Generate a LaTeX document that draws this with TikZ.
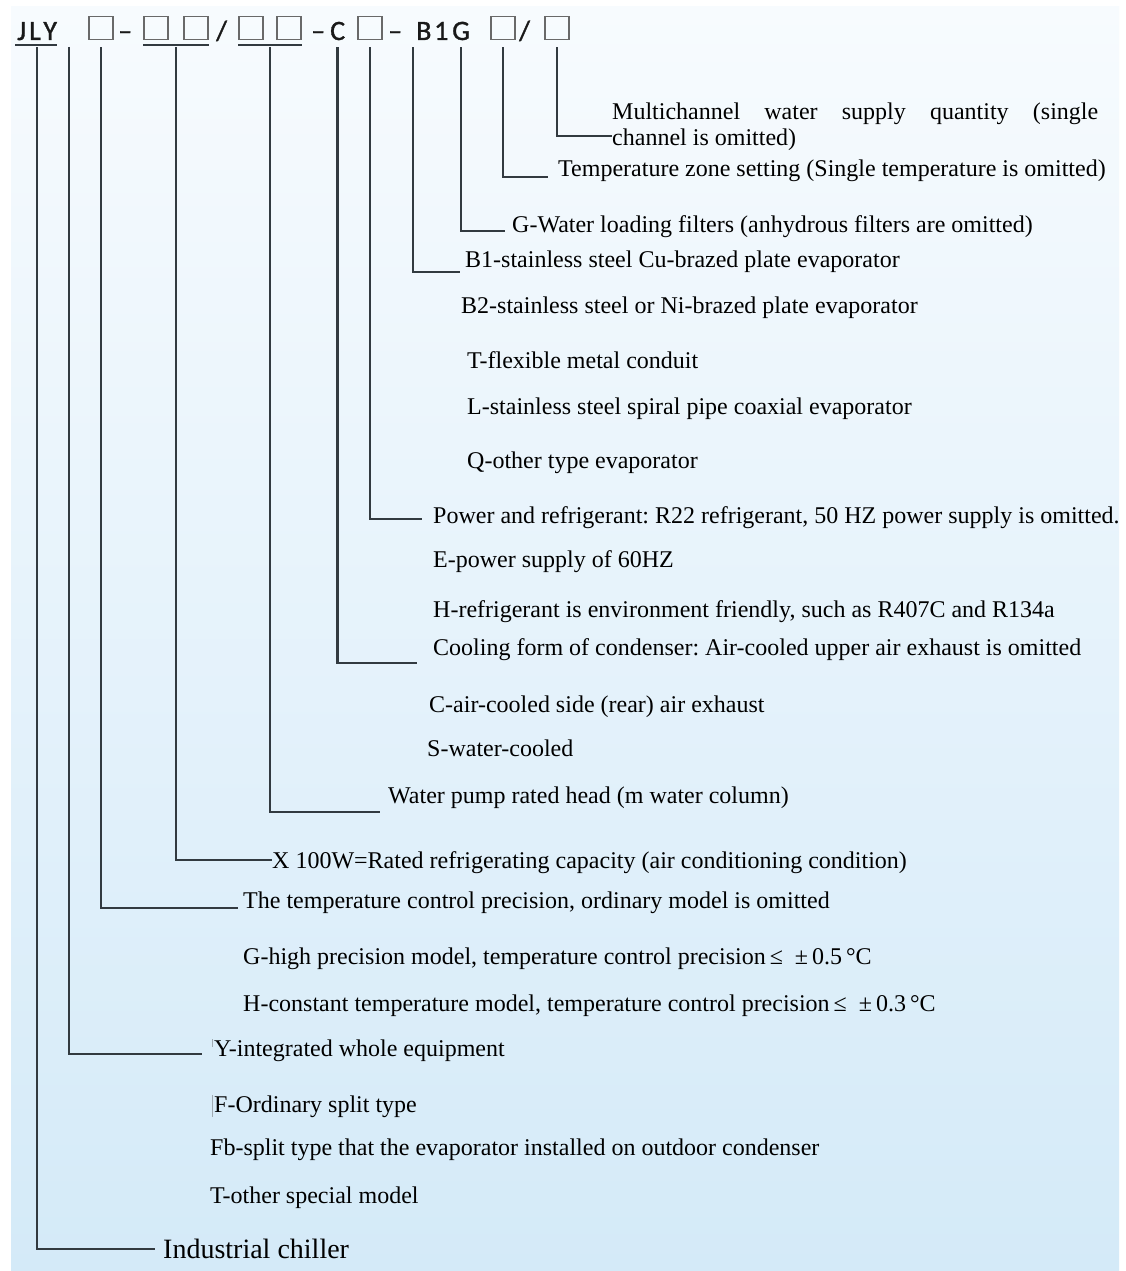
\documentclass[tikz,border=0pt]{standalone}
\usepackage{fontspec}
\usetikzlibrary{calc}
\setmainfont{Liberation Serif}
\newfontfamily\hdrfont[FakeBold=1.2]{Carlito}
\frenchspacing
\definecolor{leadgray}{RGB}{50,58,64}
\definecolor{slotgray}{RGB}{105,105,105}
\definecolor{hdrgray}{RGB}{25,25,25}
\definecolor{tickgray}{RGB}{160,170,178}
\definecolor{panelTop}{RGB}{247,251,254}
\definecolor{panelBot}{RGB}{212,234,248}
\begin{document}
\begin{tikzpicture}[x=1pt,y=-1pt,
  lbl/.style={anchor=base west, inner sep=0pt, font=\fontsize{24}{28}\selectfont, text=black},
  hdr/.style={anchor=base west, inner sep=0pt, font=\hdrfont\fontsize{28}{32}\selectfont, text=hdrgray},
  slot/.style={draw=slotgray, line width=1.3pt, minimum width=24pt, minimum height=23pt, inner sep=0pt},
  lead/.style={draw=leadgray, line width=2.4pt},
  uline/.style={draw=leadgray, line width=2pt}
]
\useasboundingbox (0,0) rectangle (1126,1271);
\fill[white] (0,0) rectangle (1126,1271);
\shade[top color=panelTop, bottom color=panelBot] (11,7) rectangle (1119,1271);

% ---- model code header ----
\node[hdr] (jly) at (17,40) {J\kern3pt L\kern2.5pt Y};
\node[slot] (s1) at (101,28) {};
\node[hdr] (d1) at (118,40) {–};
\node[slot] (s2) at (156,28) {};
\node[slot] (s3) at (196,28) {};
\node[hdr] (sl1) at (216,40) {/};
\node[slot] (s4) at (251,28) {};
\node[slot] (s5) at (289,28) {};
\node[hdr] (d2) at (311,40) {–};
\node[hdr] (hC) at (330,40) {C};
\node[slot] (s6) at (370,28) {};
\node[hdr] (d3) at (388,40) {–};
\node[hdr] (hB) at (416,40) {B};
\node[hdr] (h1) at (434,40) {1};
\node[hdr] (hG) at (452,40) {G};
\node[slot] (s7) at (503,28) {};
\node[hdr] (sl2) at (519,40) {/};
\node[slot] (s8) at (557,28) {};
\coordinate (hY) at (69,47);

% underlines of grouped positions
\draw[uline] ([shift={(-2pt,-5pt)}]jly.south west) -- ([yshift=-5pt]jly.south east);
\draw[uline] ([yshift=-5pt]s2.south west) -- ([yshift=-5pt]s3.south east);
\draw[uline] ([yshift=-5pt]s4.south west) -- ([yshift=-5pt]s5.south east);

% start points of the leaders
\coordinate (pJ)  at ($(jly.south)+(0,-7pt)$);
\coordinate (p23) at ($(s2.south)!0.5!(s3.south)+(0,-7pt)$);
\coordinate (p45) at ($(s4.south)!0.5!(s5.south)+(0,-7pt)$);

% ---- explanation texts ----
\node[lbl] (t1a) at (612,120) {\makebox[486pt][s]{Multichannel water supply quantity (single}};
\node[lbl] (t1b) at (612,146) {channel is omitted)};
\node[lbl] (t2)  at (558,176) {Temperature zone setting (Single temperature is omitted)};
\node[lbl] (t3)  at (512,232) {G-Water loading filters (anhydrous filters are omitted)};
\node[lbl] (t4)  at (465,267) {B1-stainless steel Cu-brazed plate evaporator};
\node[lbl] (t5)  at (461,313) {B2-stainless steel or Ni-brazed plate evaporator};
\node[lbl] (t6)  at (467,368) {T-flexible metal conduit};
\node[lbl] (t7)  at (467,414) {L-stainless steel spiral pipe coaxial evaporator};
\node[lbl] (t8)  at (467,468) {Q-other type evaporator};
\node[lbl] (t9)  at (433,523) {Power and refrigerant: R22 refrigerant, 50 HZ power supply is omitted.};
\node[lbl] (t10) at (433,567) {E-power supply of 60HZ};
\node[lbl] (t11) at (433,617) {H-refrigerant is environment friendly, such as R407C and R134a};
\node[lbl] (t12) at (433,655) {Cooling form of condenser: Air-cooled upper air exhaust is omitted};
\node[lbl] (t13) at (429,712) {C-air-cooled side (rear) air exhaust};
\node[lbl] (t14) at (427,756) {S-water-cooled};
\node[lbl] (t15) at (388,803) {Water pump rated head (m water column)};
\node[lbl] (t16) at (272,868) {X 100W=Rated refrigerating capacity (air conditioning condition)};
\node[lbl] (t17) at (243,908) {The temperature control precision, ordinary model is omitted};
\node[lbl] (t18) at (243,964) {G-high precision model, temperature control precision\,≤\ \ ±\,0.5\,°C};
\node[lbl] (t19) at (243,1011) {H-constant temperature model, temperature control precision\,≤\ \ ±\,0.3\,°C};
\node[lbl] (t20) at (214,1056) {Y-integrated whole equipment};
\node[lbl] (t21) at (214,1112) {F-Ordinary split type};
\node[lbl] (t22) at (210,1155) {Fb-split type that the evaporator installed on outdoor condenser};
\node[lbl] (t23) at (210,1203) {T-other special model};
\node[lbl, font=\fontsize{28}{32}\selectfont] (t24) at (163,1258) {Industrial chiller};

% faint edge marks left of two entries
\draw[tickgray, line width=0.8pt] ([xshift=-2pt]t20.north west) -- ++(0,-8pt);
\draw[tickgray, line width=0.8pt] ([xshift=-2pt]t21.north west) -- ([xshift=-2pt]t21.south west);

% ---- leader ends ----
\coordinate (e8)  at (612,136);
\coordinate (e7)  at (548,177);
\coordinate (eG)  at (505,231);
\coordinate (eB)  at (460,272);
\coordinate (e6)  at (422,519);
\coordinate (eC)  at (417,663);
\coordinate (e45) at (380,812);
\coordinate (e23) at (272,860);
\coordinate (e1)  at (238,908);
\coordinate (eY)  at (202,1054);
\coordinate (eJ)  at (155,1249);

% ---- leaders ----
\draw[lead] ([yshift=-7pt]s8.south) |- (e8);
\draw[lead] ([yshift=-7pt]s7.south) |- (e7);
\draw[lead] ($(hG.south)+(0,-7pt)$) |- (eG);
\draw[lead] ($(hB.south west)+(-3pt,-7pt)$) |- (eB);
\draw[lead] ([yshift=-7pt]s6.south) |- (e6);
\draw[lead] ($(hC.south)+(0,-7pt)$) |- (eC);
\draw[lead] (p45) |- (e45);
\draw[lead] (p23) |- (e23);
\draw[lead] ([yshift=-7pt]s1.south) |- (e1);
\draw[lead] (hY) |- (eY);
\draw[lead] (pJ) |- (eJ);
\end{tikzpicture}
\end{document}
